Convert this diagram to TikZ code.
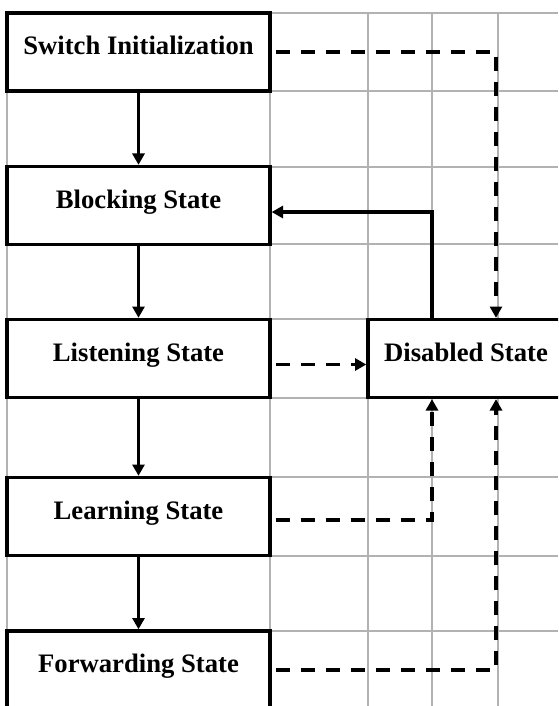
\documentclass[tikz,border=0pt]{standalone}
\usepackage{fontspec}
\setmainfont{Liberation Serif}
\usetikzlibrary{arrows.meta}
\begin{document}
\begin{tikzpicture}[x=0.75pt,y=-0.75pt,
  gridline/.style={draw=gray!60,line width=1pt},
  statebox/.style={draw=black,line width=2.5pt,fill=white,
    minimum width=197.25pt,minimum height=58.5pt,inner sep=0pt,
    text height=13.5pt,text depth=9.75pt,
    font=\fontsize{20}{24}\selectfont\bfseries},
  flow/.style={line width=2.4pt,-{Triangle[length=8.5pt,width=9pt]}},
  alt/.style={flow,dash pattern=on 10.5pt off 8.25pt,shorten <=3pt}
]
\useasboundingbox (0,0) rectangle (558,706);
\clip (0,0) rectangle (558,706);
\fill[white] (0,0) rectangle (558,706);

% background grid
\foreach \gx in {7,270,368,432,498}
  \draw[gridline] (\gx,13) -- (\gx,706);
\foreach \gy in {13,91,167,244,319,398,477,556,631}
  \draw[gridline] (7,\gy) -- (558,\gy);

% port states
\node[statebox] (sw)  at (138.5,52)    {Switch Initialization};
\node[statebox] (bl)  at (138.5,205.5) {Blocking State};
\node[statebox] (li)  at (138.5,358.5) {Listening State};
\node[statebox] (le)  at (138.5,516.5) {Learning State};
\node[statebox] (fw)  at (138.5,670)   {Forwarding State};
\node[statebox,minimum width=147pt] (dis) at (466,358.5) {Disabled State};

% columns used by the side connectors
\coordinate (c1) at (432,0);
\coordinate (c2) at (496,0);

% normal progression
\draw[flow] (sw.south) -- (bl.north);
\draw[flow] (bl.south) -- (li.north);
\draw[flow] (li.south) -- (le.north);
\draw[flow] (le.south) -- (fw.north);

% re-enabling a disabled port
\draw[flow] (c1 |- dis.north) |- ([yshift=-4.9pt]bl.east);

% transitions into the disabled state
\draw[alt] (sw.east) -| (c2 |- dis.north);
\draw[alt] ([yshift=-4.5pt]li.east) -- ([yshift=-4.5pt]dis.west);
\draw[alt] ([yshift=-2.6pt]le.east) -| (c1 |- dis.south);
\draw[alt] (fw.east) -| (c2 |- dis.south);
\end{tikzpicture}
\end{document}
